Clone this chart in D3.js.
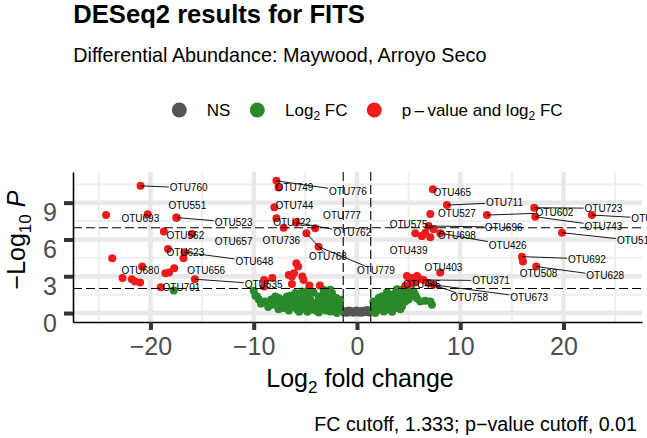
<!DOCTYPE html>
<html>
<head>
<meta charset="utf-8">
<script src="https://cdn.jsdelivr.net/npm/d3@7"></script>
<style>
  body { margin: 0; background: #fff; }
  text { font-family: "Liberation Sans", Arial, sans-serif; }
</style>
</head>
<body>
<div id="chart"></div>
<script>
// ---------------------------//
//       DATA                 //
// ---------------------------//

// not significant: [log2FC, -log10 p]
const nsPoints = [
  [-1.25, 0.05], [-1.1, 0.14], [-0.95, 0.02], [-0.8, 0.2], [-0.65, 0.08], [-0.5, 0.15],
  [-0.35, 0.03], [-0.2, 0.1], [-0.05, 0.2], [0.1, 0.05], [0.25, 0.14], [0.4, 0.02],
  [0.55, 0.18], [0.7, 0.07], [0.85, 0.12], [1.0, 0.24], [1.15, 0.04], [1.28, 0.16]
];

// fold change only (green)
const fcPoints = [
  [-17.75, 1.84],
  [-10.0, 1.81], [-9.84, 1.41], [-9.68, 1.35], [-9.5, 1.1], [-9.3, 0.75], [-8.88, 0.94],
  [-8.6, 0.5], [-8.3, 1.1], [-8.07, 0.67], [-7.9, 1.35], [-7.74, 1.22], [-7.6, 0.3],
  [-7.58, 1.22], [-7.42, 0.86], [-7.26, 0.54], [-7.2, 0.9], [-7.1, 0.41], [-6.94, 1.14],
  [-6.78, 1.35], [-6.78, 0.54], [-6.6, 0.2], [-6.46, 1.41], [-6.46, 0.94], [-6.3, 1.08],
  [-6.2, 1.3], [-6.14, 0.81], [-6.0, 0.5], [-5.97, 1.63], [-5.8, 0.3], [-5.65, 1.14],
  [-5.6, 0.1], [-5.49, 0.67], [-5.32, 1.76], [-5.32, 0.33], [-5.2, 1.25], [-5.0, 1.41],
  [-5.0, 0.85], [-4.84, 0.54], [-4.8, 0.1], [-4.68, 1.9], [-4.52, 1.08], [-4.52, 0.27],
  [-4.5, 1.63], [-4.3, 0.8], [-4.2, 1.67], [-4.2, 0.54], [-4.0, 0.2], [-3.87, 0.86],
  [-3.72, 1.35], [-3.7, 0.05], [-3.55, 0.59], [-3.55, 0.27], [-3.4, 1.05], [-3.23, 1.63],
  [-3.23, 1.9], [-3.2, 0.4], [-3.0, 0.2], [-2.9, 0.94], [-2.9, 0.54], [-2.85, 1.3],
  [-2.75, 1.63], [-2.6, 0.5], [-2.58, 1.9], [-2.58, 0.13], [-2.42, 1.63], [-2.4, 1.1],
  [-2.26, 0.67], [-2.2, 0.35], [-2.0, 1.22], [-1.94, 0.0], [-1.9, 0.6], [-1.78, 0.81],
  [-1.7, 0.45], [-1.62, 0.27], [-1.62, 1.08],
  [1.5, 0.3], [1.6, 0.94], [1.61, 0.81], [1.77, 0.0], [1.8, 0.5], [1.94, 0.27], [2.0, 0.6],
  [2.1, 1.22], [2.26, 0.54], [2.3, 0.9], [2.42, 1.35], [2.5, 0.2], [2.58, 0.13],
  [2.7, 0.55], [2.74, 0.94], [2.9, 0.27], [2.9, 1.7], [3.0, 0.4], [3.06, 1.22],
  [3.22, 1.35], [3.22, 0.67], [3.26, 1.49], [3.4, 0.1], [3.55, 0.81], [3.55, 1.22],
  [3.7, 0.55], [3.71, 1.63], [3.87, 1.35], [3.87, 0.41], [3.87, 1.95], [4.0, 0.9],
  [4.03, 1.89], [4.19, 1.22], [4.2, 0.3], [4.36, 0.54], [4.51, 1.63], [4.5, 1.95],
  [4.6, 1.3], [4.68, 0.94], [4.84, 1.63], [4.84, 1.89], [5.0, 1.1], [5.16, 1.35],
  [5.32, 1.76], [5.48, 1.76], [5.64, 1.49], [5.8, 1.2], [6.13, 0.94], [6.6, 1.0],
  [7.1, 0.94], [7.26, 0.67]
];

// p-value and fold change (red), unlabelled
const sigPoints = [
  [-24.3, 7.99], [-23.7, 4.47], [-16.8, 4.47], [-18.56, 3.25], [-18.2, 3.3],
  [-22.7, 2.85], [-21.8, 2.76], [-21.5, 2.57], [-21.0, 2.49],
  [-9.0, 2.7], [-8.2, 2.85], [-6.6, 3.1], [-9.0, 2.16], [-8.9, 2.57],
  [-5.87, 4.07], [-5.7, 3.79], [-6.1, 3.25], [-6.3, 2.98], [-5.3, 2.98], [-5.17, 2.7],
  [-4.6, 2.25], [-3.6, 2.25], [-6.3, 2.36],
  [5.64, 6.5], [6.61, 6.55], [7.1, 6.18], [4.84, 3.03], [5.32, 2.85], [5.81, 3.03],
  [6.13, 2.76], [4.68, 2.22], [5.64, 2.49]
];

// labelled red points and where their labels sit
const labelIds = [
  "OTU760", "OTU551", "OTU523", "OTU693", "OTU562", "OTU657", "OTU623", "OTU648",
  "OTU680", "OTU656", "OTU535", "OTU701", "OTU749", "OTU776", "OTU744", "OTU777",
  "OTU722", "OTU762", "OTU736", "OTU768", "OTU779", "OTU465", "OTU711", "OTU527",
  "OTU602", "OTU723", "OTU743", "OTU741", "OTU512", "OTU575", "OTU696", "OTU698",
  "OTU426", "OTU439", "OTU403", "OTU371", "OTU758", "OTU673", "OTU445", "OTU692",
  "OTU508", "OTU628"
];
const labelFC = [
  -20.96, -17.5, -17.45, -20.27, -15.97, -18.7, -18.3, -16.7,
  -20.8, -17.7, -15.7, -19.0, -7.6, -7.8, -8.0, -4.04,
  -7.8, -5.87, -7.1, -4.9, -3.72, 7.35, 8.71, 7.1,
  12.58, 17.16, 17.26, 22.75, 19.85, 6.29, 6.93, 7.42,
  8.06, 6.29, 8.06, 6.45, 6.93, 7.42, 5.16, 15.97,
  16.07, 17.36
];
const labelP = [
  10.37, 7.8, 7.78, 8.05, 6.45, 6.64, 5.23, 4.96,
  3.79, 3.66, 2.76, 2.11, 10.24, 10.78, 8.62, 6.91,
  7.72, 7.37, 6.96, 6.5, 5.41, 10.1, 8.8, 8.07,
  7.99, 8.59, 7.85, 7.99, 6.55, 6.28, 7.1, 6.83,
  6.5, 6.28, 3.3, 2.7, 2.44, 2.3, 2.38, 4.6,
  4.2, 3.79
];
const labelX = [
  -16.3, -16.43, -11.95, -20.98, -16.62, -11.95, -16.62, -9.94,
  -20.98, -14.6, -9.04, -17.0, -6.05, -0.87, -6.05, -1.45,
  -6.29, -0.45, -7.33, -2.81, 1.84, 9.23, 14.28, 9.68,
  19.12, 23.87, 23.87, 28.4, 27.0, 5.0, 14.2, 9.68,
  14.6, 5.0, 8.38, 12.98, 10.87, 16.68, 6.29, 22.27,
  17.58, 24.04
];
const labelY = [
  10.21, 8.8, 7.4, 7.72, 6.37, 5.82, 4.96, 4.2,
  3.5, 3.5, 2.36, 2.08, 10.21, 9.94, 8.75, 7.99,
  7.4, 6.55, 5.96, 4.6, 3.47, 9.84, 9.02, 8.13,
  8.18, 8.54, 7.1, 7.72, 5.9, 7.26, 7.0, 6.37,
  5.55, 5.09, 3.71, 2.65, 1.27, 1.27, 2.3, 4.41,
  3.25, 3.03
];
// 1 = connector segment drawn
const labelSeg = [
  1, 0, 1, 0, 0, 0, 0, 1,
  0, 0, 1, 0, 0, 1, 0, 0,
  0, 1, 0, 1, 1, 0, 1, 0,
  1, 1, 1, 1, 1, 0, 1, 0,
  1, 0, 0, 1, 1, 1, 0, 1,
  0, 1
];

const xMajor = [-20, -10, 0, 10, 20];
const xMinor = [-25, -15, -5, 5, 15, 25];
const yMajor = [0, 3, 6, 9];
const yMinor = [1.5, 4.5, 7.5, 10.5];
const fcCutoff = 1.333;
const pCutoffs = [2, 6.95];

// ---------------------------//
//       SET  CANVAS          //
// ---------------------------//
const W = 647, H = 438;
const margin = {top: 172, right: 5, bottom: 116, left: 73},
    width = W - margin.left - margin.right,
    height = H - margin.top - margin.bottom;

const colNS = "#555555", colFC = "#2a8a2a", colSig = "#ec1c1c";
const font = '"Liberation Sans", Arial, sans-serif';

const svg = d3.select("#chart")
    .append("svg")
    .attr("width", W)
    .attr("height", H)
    .style("display", "block");

svg.append("rect").attr("width", W).attr("height", H).attr("fill", "#fff");

const g = svg.append("g")
    .attr("transform", `translate(${margin.left},${margin.top})`);

const x = d3.scaleLinear().domain([-27.5, 27.6]).range([0, width]);
const y = d3.scaleLinear().domain([-0.73, 11.5]).range([height, 0]);

// ---------------------------//
//       GRID                 //
// ---------------------------//
const grid = g.append("g");
grid.selectAll(".vmin").data(xMinor).enter().append("line")
    .attr("x1", d => x(d)).attr("x2", d => x(d)).attr("y1", 0).attr("y2", height)
    .attr("stroke", "#efefef").attr("stroke-width", 2);
grid.selectAll(".hmin").data(yMinor).enter().append("line")
    .attr("y1", d => y(d)).attr("y2", d => y(d)).attr("x1", 0).attr("x2", width)
    .attr("stroke", "#efefef").attr("stroke-width", 2);
grid.selectAll(".vmaj").data(xMajor).enter().append("line")
    .attr("x1", d => x(d)).attr("x2", d => x(d)).attr("y1", 0).attr("y2", height)
    .attr("stroke", "#e8e8e8").attr("stroke-width", 4.5);
grid.selectAll(".hmaj").data(yMajor).enter().append("line")
    .attr("y1", d => y(d)).attr("y2", d => y(d)).attr("x1", 0).attr("x2", width)
    .attr("stroke", "#e8e8e8").attr("stroke-width", 4.5);

// ---------------------------//
//       POINTS               //
// ---------------------------//
const r = 4;
function drawPoints(data, colour) {
    g.append("g").selectAll("circle")
        .data(data)
        .enter()
        .append("circle")
        .attr("cx", d => x(d[0]))
        .attr("cy", d => y(d[1]))
        .attr("r", r)
        .attr("fill", colour);
}
drawPoints(nsPoints, colNS);
drawPoints(fcPoints, colFC);
drawPoints(sigPoints, colSig);
drawPoints(labelIds.map((id, i) => [labelFC[i], labelP[i]]), colSig);

// cutoff lines
g.selectAll(".vcut").data([-fcCutoff, fcCutoff]).enter().append("line")
    .attr("x1", d => x(d)).attr("x2", d => x(d)).attr("y1", 0).attr("y2", height)
    .attr("stroke", "#000").attr("stroke-width", 1.1).attr("stroke-dasharray", "9,4");
g.selectAll(".hcut").data(pCutoffs).enter().append("line")
    .attr("y1", d => y(d)).attr("y2", d => y(d)).attr("x1", 0).attr("x2", width)
    .attr("stroke", "#000").attr("stroke-width", 1.1).attr("stroke-dasharray", "9,4");

// ---------------------------//
//       LABELS               //
// ---------------------------//
const segLayer = g.append("g");
const labLayer = g.append("g");
labelIds.forEach((id, i) => {
    const cx = x(labelX[i]), cy = y(labelY[i]);
    const t = labLayer.append("text")
        .attr("x", cx).attr("y", cy)
        .attr("dy", "0.36em")
        .attr("text-anchor", "middle")
        .style("font-size", "10px")
        .attr("fill", "#000")
        .text(id);
    if (!labelSeg[i]) return;
    const w = t.node().getComputedTextLength() / 2 + 1, h = 4.5;
    const px = x(labelFC[i]), py = y(labelP[i]);
    const dx = px - cx, dy = py - cy;
    const k = Math.min(dx ? w / Math.abs(dx) : Infinity, dy ? h / Math.abs(dy) : Infinity);
    if (k >= 1) return;
    segLayer.append("line")
        .attr("x1", px).attr("y1", py)
        .attr("x2", cx + k * dx).attr("y2", cy + k * dy)
        .attr("stroke", "#000").attr("stroke-width", 0.9);
});

// ---------------------------//
//       AXES                 //
// ---------------------------//
const xAxis = g.append("g")
    .attr("transform", `translate(0,${height})`)
    .call(d3.axisBottom(x).tickValues(xMajor).tickSize(8).tickSizeOuter(0).tickPadding(7)
        .tickFormat(d => d < 0 ? "\u2212" + Math.abs(d) : d));
const yAxis = g.append("g")
    .call(d3.axisLeft(y).tickValues(yMajor).tickSize(9).tickSizeOuter(0).tickPadding(7));

[xAxis, yAxis].forEach(a => {
    a.select(".domain").attr("stroke", "#000").attr("stroke-width", 1.6);
    a.selectAll(".tick line").attr("stroke", "#333").attr("stroke-width", 4);
    a.selectAll(".tick text")
        .attr("fill", "#4d4d4d")
        .style("font-size", "25px")
        .style("font-family", font);
});
// tick labels on the y axis sit a little below their ticks
yAxis.selectAll(".tick text").attr("transform", "translate(0,10)");

// axis titles
const xt = svg.append("text")
    .attr("x", 360).attr("y", 387)
    .attr("text-anchor", "middle")
    .style("font-size", "25px")
    .attr("fill", "#000");
xt.append("tspan").text("Log");
xt.append("tspan").attr("dy", 6).style("font-size", "17px").text("2");
xt.append("tspan").attr("dy", -6).text(" fold change");

const yt = svg.append("text")
    .attr("transform", "translate(25,240) rotate(-90)")
    .attr("text-anchor", "middle")
    .style("font-size", "25px")
    .attr("fill", "#000");
yt.append("tspan").text("\u2212Log");
yt.append("tspan").attr("dy", 6).style("font-size", "17px").text("10");
yt.append("tspan").attr("dy", -6).text(" ");
yt.append("tspan").style("font-style", "italic").text("P");

// ---------------------------//
//   TITLE / LEGEND / CAPTION //
// ---------------------------//
svg.append("text")
    .attr("x", 73.3).attr("y", 23.3)
    .style("font-size", "25.6px").style("font-weight", "bold")
    .text("DESeq2 results for FITS");

svg.append("text")
    .attr("x", 73.3).attr("y", 61.7)
    .style("font-size", "19.8px")
    .text("Differential Abundance: Maywood, Arroyo Seco");

const legendCols = [colNS, colFC, colSig];
const legendCx = [179.3, 257.3, 374.3];
const legendTx = [206.7, 285, 401.7];
const legend = svg.append("g");
legend.selectAll("circle").data(legendCols).enter().append("circle")
    .attr("cx", (d, i) => legendCx[i]).attr("cy", 110).attr("r", 7.5)
    .attr("fill", d => d);

const l0 = legend.append("text").attr("x", legendTx[0]).attr("y", 115.5).style("font-size", "17px");
l0.text("NS");
const l1 = legend.append("text").attr("x", legendTx[1]).attr("y", 115.5).style("font-size", "17px");
l1.append("tspan").text("Log");
l1.append("tspan").attr("dy", 4).style("font-size", "12px").text("2");
l1.append("tspan").attr("dy", -4).text(" FC");
const l2 = legend.append("text").attr("x", legendTx[2]).attr("y", 115.5).style("font-size", "17px");
l2.append("tspan").text("p\u2009\u2013\u2009value and log");
l2.append("tspan").attr("dy", 4).style("font-size", "12px").text("2");
l2.append("tspan").attr("dy", -4).text(" FC");

svg.append("text")
    .attr("x", 637).attr("y", 430.7)
    .attr("text-anchor", "end")
    .style("font-size", "19.7px")
    .text("FC cutoff, 1.333; p\u2212value cutoff, 0.01");
</script>
</body>
</html>
